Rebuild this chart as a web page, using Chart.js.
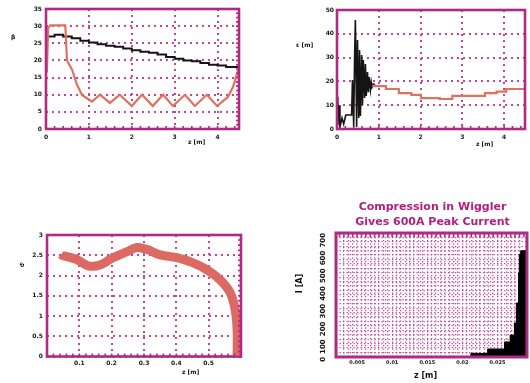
<!DOCTYPE html>
<html>
<head>
<meta charset="utf-8">
<script src="https://cdn.jsdelivr.net/npm/chart.js@4.4.1/dist/chart.umd.min.js"></script>
<style>
  html, body { margin: 0; padding: 0; background: #fff; }
  body { width: 530px; height: 383px; position: relative; overflow: hidden; font-family: "DejaVu Sans", sans-serif; }
  canvas { position: absolute; }
  .lbl { position: absolute; font: bold 6px "DejaVu Sans", sans-serif; color: #111; white-space: nowrap; line-height: 1; }
  .big { font: bold 8px "DejaVu Sans", sans-serif; }
  .title { position: absolute; left: 300px; width: 265px; color: #b0207f; font: bold 11px "DejaVu Sans", sans-serif;
           text-align: center; white-space: nowrap; line-height: 15px; top: 199px; }
</style>
</head>
<body>
<canvas id="c1" width="265" height="160" style="left:0;top:0;width:265px;height:160px"></canvas>
<canvas id="c2" width="265" height="160" style="left:265px;top:0;width:265px;height:160px"></canvas>
<canvas id="c3" width="265" height="193" style="left:0;top:190px;width:265px;height:193px"></canvas>
<canvas id="c4" width="265" height="193" style="left:265px;top:190px;width:265px;height:193px"></canvas>

<div class="lbl" style="left:11px;top:34px">β</div>
<div class="lbl" style="left:188px;top:139px">z [m]</div>
<div class="lbl" style="left:296px;top:42px">ε [m]</div>
<div class="lbl" style="left:476px;top:141px">z [m]</div>
<div class="lbl" style="left:20px;top:262px;transform:rotate(-45deg)">δ</div>
<div class="lbl" style="left:182px;top:369px">z [m]</div>
<div class="lbl big" style="left:290px;top:279px;transform:rotate(-90deg)">I [A]</div>
<div class="lbl big" style="left:414px;top:371px">z [m]</div>
<div class="title">Compression in Wiggler<br>Gives 600A Peak Current</div>

<script>
// ---- panel 1: beta function (black) and second trace (red) along the wiggler ----
const p1BlackX = [0, 0.2, 0.4, 0.6, 0.8, 1.0, 1.2, 1.4, 1.6, 1.8, 2.0, 2.2, 2.4, 2.6, 2.8, 3.0, 3.2, 3.4, 3.6, 3.8, 4.0, 4.2, 4.4, 4.5];
const p1BlackY = [26.5, 27, 27.5, 27, 26.5, 25.75, 25.25, 24.75, 24.25, 24, 23.5, 23, 22.5, 22.25, 21.75, 21, 20.5, 20, 19.75, 19.25, 18.75, 18.5, 18.1, 18.1];
const p1RedX = [0.02, 0.05, 0.1, 0.45, 0.49, 0.61, 0.72, 0.84, 0.98, 1.07, 1.26, 1.49, 1.72, 2.0, 2.24, 2.49, 2.73, 2.96, 3.24, 3.47, 3.75, 3.99, 4.24, 4.36, 4.48];
const p1RedY = [16.5, 29.5, 30.25, 30.25, 20, 17.2, 13, 9.9, 8.75, 8.0, 10, 7.6, 10, 6.7, 10, 6.7, 10, 6.7, 10, 6.7, 10, 6.7, 9.35, 12.25, 17.2];
const p1XTicks = [0, 1, 2, 3, 4];
const p1XLabels = ['0', '1', '2', '3', '4'];
const p1YTicks = [0, 5, 10, 15, 20, 25, 30, 35];
const p1YLabels = ['0', '5', '10', '15', '20', '25', '30', '35'];

// ---- panel 2: emittance, noisy start (black) then settled (red) ----
const p2BlackX = [0, 0.02, 0.05, 0.07, 0.12, 0.16, 0.21, 0.30, 0.35, 0.37, 0.40, 0.42, 0.44, 0.47, 0.49, 0.52, 0.54, 0.56, 0.59, 0.61, 0.63, 0.66, 0.68, 0.70, 0.73, 0.75, 0.77, 0.80, 0.82, 0.84, 0.87, 0.91];
const p2BlackY = [13.4, 1.7, 10, 0.8, 4.6, 2.1, 5.9, 5.9, 5.9, 20.6, 0.8, 29, 45.8, 0.8, 37.4, 4.6, 33.2, 5.5, 31.1, 10.1, 29, 13, 27.3, 13.9, 23.9, 15.5, 21.8, 16.4, 19.7, 17.6, 18.9, 18.5];
const p2RedX = [0.87, 1.17, 1.48, 1.78, 2.01, 2.46, 2.76, 3.54, 3.82, 4.05, 4.17, 4.5];
const p2RedY = [18.7, 18.0, 16.8, 15.1, 14.3, 13.0, 12.6, 13.9, 15.1, 15.7, 16.8, 16.8];
const p2XTicks = [0, 1, 2, 3, 4];
const p2XLabels = ['0', '1', '2', '3', '4'];
const p2YTicks = [0, 10, 20, 30, 40, 50];
const p2YLabels = ['0', '10', '20', '30', '40', '50'];

// ---- panel 3: longitudinal phase space band ----
const p3X = [0.043, 0.046, 0.093, 0.127, 0.164, 0.204, 0.248, 0.279, 0.310, 0.350, 0.402, 0.452, 0.495, 0.536, 0.567, 0.582, 0.588, 0.588];
const p3Y = [2.52, 2.50, 2.39, 2.24, 2.26, 2.44, 2.59, 2.69, 2.64, 2.51, 2.44, 2.31, 2.14, 1.89, 1.57, 1.15, 0.66, 0.04];
const p3XTicks = [0.1, 0.2, 0.3, 0.4, 0.5];
const p3XLabels = ['0.1', '0.2', '0.3', '0.4', '0.5'];
const p3YTicks = [0, 0.5, 1, 1.5, 2, 2.5, 3];
const p3YLabels = ['0', '0.5', '1', '1.5', '2', '2.5', '3'];

// ---- panel 4: current profile after compression ----
const p4X = [0.0212, 0.0215, 0.0236, 0.0260, 0.0268, 0.0274, 0.0277, 0.0280, 0.0281, 0.0283, 0.0285, 0.0292];
const p4Current = [0, 20, 20, 45, 85, 124, 192, 305, 474, 580, 600, 600];
const p4XTicks = [0.005, 0.01, 0.015, 0.02, 0.025];
const p4XLabels = ['0.005', '0.01', '0.015', '0.02', '0.025'];
const p4YTicks = [0, 100, 200, 300, 400, 500, 600, 700];
const p4YLabels = ['0', '100', '200', '300', '400', '500', '600', '700'];

const FRAME = '#b02a82';
const GRID = '#c4449c';
const RED = '#e2705f';
const BAND = '#dc6a63';
const INK = '#141414';

const pts = (xs, ys) => xs.map((x, i) => ({ x, y: ys[i] }));
const labeler = (ticks, labels) => v => {
  const i = ticks.findIndex(t => Math.abs(t - v) < 1e-9);
  return i < 0 ? '' : labels[i];
};

// Thick frame with short inward tick marks, placed through the chart's own scales
const framePlugin = {
  id: 'frame',
  afterDatasetsDraw(chart, args, o) {
    const { ctx, chartArea: a, scales: { x, y } } = chart;
    ctx.save();
    ctx.strokeStyle = FRAME;
    ctx.lineWidth = 1.6;
    const walk = (scale, step, fn) => {
      const start = Math.ceil(scale.min / step - 1e-9) * step;
      for (let v = start; v <= scale.max + 1e-9; v += step) fn(scale.getPixelForValue(v));
    };
    ctx.beginPath();
    if (o.xStep) walk(x, o.xStep, px => {
      if (o.bottom) { ctx.moveTo(px, a.bottom); ctx.lineTo(px, a.bottom - o.len); }
      if (o.top) { ctx.moveTo(px, a.top); ctx.lineTo(px, a.top + o.len); }
    });
    if (o.yStep) walk(y, o.yStep, py => {
      if (o.right) { ctx.moveTo(a.right, py); ctx.lineTo(a.right - o.len, py); }
      if (o.left) { ctx.moveTo(a.left, py); ctx.lineTo(a.left + o.len, py); }
    });
    ctx.stroke();
    ctx.lineWidth = o.width || 2.6;
    ctx.strokeRect(a.left, a.top, a.right - a.left, a.bottom - a.top);
    ctx.restore();
  }
};
Chart.register(framePlugin);

function axis(cfg) {
  return {
    type: 'linear',
    min: cfg.min, max: cfg.max,
    afterFit: s => { if (cfg.width != null) s.width = cfg.width; if (cfg.height != null) s.height = cfg.height; },
    grid: { color: GRID, lineWidth: cfg.gridWidth || 2, drawTicks: false },
    border: { display: false, dash: cfg.dash || [2, 4] },
    ticks: {
      stepSize: cfg.step, autoSkip: false, maxTicksLimit: 1000,
      padding: cfg.pad, color: INK,
      minRotation: cfg.rot || 0, maxRotation: cfg.rot || 0,
      font: { family: 'DejaVu Sans', size: cfg.font || 6, weight: 'bold' },
      callback: labeler(cfg.ticks, cfg.labels)
    }
  };
}

function make(id, datasets, padding, xAxis, yAxis, frame) {
  return new Chart(document.getElementById(id), {
    type: 'line',
    data: { datasets },
    options: {
      responsive: false, animation: false, devicePixelRatio: 1,
      layout: { padding },
      elements: { point: { radius: 0 } },
      plugins: { legend: { display: false }, tooltip: { enabled: false }, frame },
      scales: { x: xAxis, y: yAxis }
    }
  });
}

make('c1', [
  { data: pts(p1RedX, p1RedY), borderColor: RED, borderWidth: 2.2 },
  { data: pts(p1BlackX, p1BlackY), borderColor: INK, borderWidth: 2, stepped: 'after' }
], { top: 9, right: 26, left: 0, bottom: 0 },
  axis({ min: 0, max: 4.5, step: 1, ticks: p1XTicks, labels: p1XLabels, pad: 5, height: 31 }),
  axis({ min: 0, max: 35, step: 5, ticks: p1YTicks, labels: p1YLabels, pad: 4, width: 46 }),
  { xStep: 0.2, yStep: 1.25, len: 3, bottom: true, right: true });

make('c2', [
  { data: pts(p2RedX, p2RedY), borderColor: RED, borderWidth: 2.2, stepped: 'after' },
  { data: pts(p2BlackX, p2BlackY), borderColor: INK, borderWidth: 1.6 }
], { top: 10, right: 1, left: 0, bottom: 0 },
  axis({ min: 0, max: 4.5, step: 1, ticks: p2XTicks, labels: p2XLabels, pad: 5, height: 31 }),
  axis({ min: 0, max: 50, step: 10, ticks: p2YTicks, labels: p2YLabels, pad: 3, width: 72 }),
  { xStep: 0.2, len: 3, bottom: true });

make('c3', [
  { data: pts(p3X, p3Y), borderColor: BAND, borderWidth: 9, tension: 0.3, borderCapStyle: 'butt', borderJoinStyle: 'round' }
], { top: 45, right: 24, left: 0, bottom: 0 },
  axis({ min: 0, max: 0.6, step: 0.1, ticks: p3XTicks, labels: p3XLabels, pad: 3, height: 26.5 }),
  axis({ min: 0, max: 3, step: 0.5, ticks: p3YTicks, labels: p3YLabels, pad: 4, width: 47 }),
  { xStep: 0.02, yStep: 0.125, len: 3, bottom: true, right: true });

make('c4', [
  { data: pts(p4X, p4Current), borderColor: '#000', backgroundColor: '#000', borderWidth: 1, fill: 'origin', stepped: 'after' }
], { top: 43, right: 0, left: 0, bottom: 0 },
  axis({ min: 0.002, max: 0.0292, step: 0.000625, ticks: p4XTicks, labels: p4XLabels, pad: 3, height: 26,
         gridWidth: 1.3, dash: [1.3, 2.2], font: 5 }),
  axis({ min: 0, max: 700, step: 25, ticks: p4YTicks, labels: p4YLabels, pad: 13, width: 71,
         gridWidth: 1.3, dash: [1.3, 2.2], font: 7, rot: 90 }),
  { xStep: 0.000625, len: 4, top: true, width: 3 });
</script>
</body>
</html>
